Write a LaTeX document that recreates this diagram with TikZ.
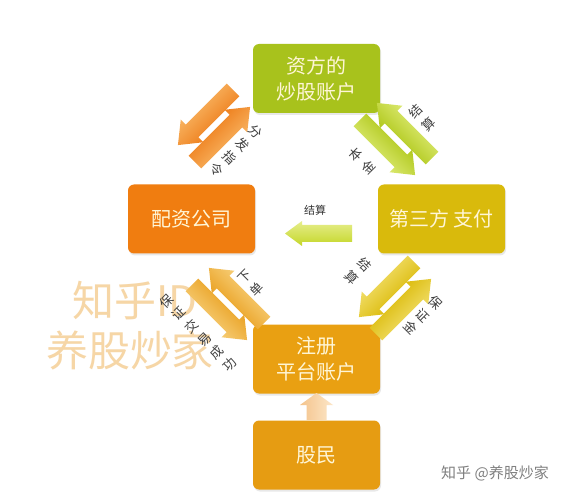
\documentclass[tikz,border=0pt]{standalone}
\usepackage{fontspec}
\setmainfont{Noto Sans CJK SC}
\usetikzlibrary{shadows}
\definecolor{cTop}{RGB}{168,194,28}
\definecolor{cLeft}{RGB}{240,125,16}
\definecolor{cRight}{RGB}{217,186,12}
\definecolor{cReg}{RGB}{233,160,18}
\definecolor{cGu}{RGB}{230,156,18}
\definecolor{boxtext}{RGB}{255,246,215}
\definecolor{tlA}{RGB}{238,128,30}\definecolor{tlB}{RGB}{248,178,95}
\definecolor{trA}{RGB}{176,200,28}\definecolor{trB}{RGB}{218,232,110}
\definecolor{brA}{RGB}{220,188,14}\definecolor{brB}{RGB}{240,220,100}
\definecolor{blA}{RGB}{234,162,36}\definecolor{blB}{RGB}{246,204,116}
\definecolor{mdA}{RGB}{196,214,40}\definecolor{mdB}{RGB}{230,238,140}
\definecolor{upA}{RGB}{244,196,140}\definecolor{upB}{RGB}{252,230,200}
\definecolor{wm}{RGB}{246,214,166}
% x, y, angle, length, shaft half, head half, head length, colour A, colour B
\newcommand\fatarr[9]{%
  \begin{scope}[transform canvas={shift={(#1,#2)},rotate=#3}]
    \shade[top color=#8,bottom color=#9]
      ({-0.5*#4},{-#5}) -- ({0.5*#4-#7},{-#5}) -- ({0.5*#4-#7},{-#6})
      -- ({0.5*#4},0) -- ({0.5*#4-#7},{#6}) -- ({0.5*#4-#7},{#5})
      -- ({-0.5*#4},{#5}) -- cycle;
  \end{scope}}
\begin{document}
\begin{tikzpicture}[x=1pt,y=-1pt,
  box/.style={rounded corners=6pt, minimum width=127pt, minimum height=69pt,
    text=boxtext, font=\fontsize{20}{26}\selectfont, align=center, inner sep=0pt,
    drop shadow={opacity=0.18, shadow xshift=1pt, shadow yshift=-2pt}},
  lbl/.style={font=\fontsize{13}{18}\selectfont, align=center, text=black!75, inner sep=0pt}]
\useasboundingbox (0,0) rectangle (571,500);
\fill[white] (0,0) rectangle (571,500);

% watermark
\node[text=wm, font=\fontsize{42}{46}\selectfont, inner sep=0pt] (wm1) at (135,301) {知乎ID};
\node[text=wm, font=\fontsize{42}{46}\selectfont, inner sep=0pt] (wm2) at (130,350) {养股炒家};

% boxes
\node[box, fill=cTop]   (zf)  at (316.5,78.5) {资方的\\炒股账户};
\node[box, fill=cLeft]  (pz)  at (191.5,219)  {配资公司};
\node[box, fill=cRight] (dsf) at (441.5,219)  {第三方 支付};
\node[box, fill=cReg]   (zc)  at (316.5,359)  {注册\\平台账户};
\node[box, fill=cGu]    (gm)  at (316.5,455)  {股民};

% arrows top-left
\fatarr{205.5}{117.5}{225}{78}{9}{16}{20}{tlA}{tlB}
\fatarr{222.5}{134.5}{45}{78}{9}{16}{20}{tlA}{tlB}
% arrows top-right
\fatarr{404.5}{130.5}{135}{78}{9}{16}{20}{trA}{trB}
\fatarr{387.5}{147.5}{-45}{78}{9}{16}{20}{trA}{trB}
% arrows bottom-right
\fatarr{386.5}{289.5}{225}{78}{9}{16}{20}{brA}{brB}
\fatarr{403.5}{306.5}{45}{78}{9}{16}{20}{brA}{brB}
% arrows bottom-left
\fatarr{236.5}{295.5}{135}{78}{9}{16}{20}{blA}{blB}
\fatarr{219.5}{312.5}{-45}{78}{9}{16}{20}{blA}{blB}
% middle arrow
\fatarr{318.5}{233.5}{180}{67}{8.5}{12.5}{17}{mdA}{mdB}
% up arrow
\fatarr{316.5}{406.5}{90}{27}{10}{16.5}{12}{upA}{upB}

% labels
\node[lbl, rotate=-45] (l1) at (236,151) {分\\发\\指\\令};
\node[lbl, rotate=45]  (l2) at (422,118) {结\\算};
\node[lbl, rotate=45]  (l3) at (362,161) {本\\金};
\node[lbl, rotate=-45] (l4) at (358,271) {结\\算};
\node[lbl, rotate=-45] (l5) at (423,315) {保\\证\\金};
\node[lbl, rotate=45]  (l6) at (251,283) {下\\单};
\node[lbl, rotate=45]  (l7) at (198,333) {保\\证\\交\\易\\成\\功};
\node[font=\fontsize{11}{13}\selectfont, text=black!80, inner sep=0pt] (l8) at (315,210) {结算};

\node[font=\fontsize{15}{18}\selectfont, text=black!50, inner sep=0pt] (wm3) at (495,473) {知乎 @养股炒家};
\end{tikzpicture}
\end{document}
